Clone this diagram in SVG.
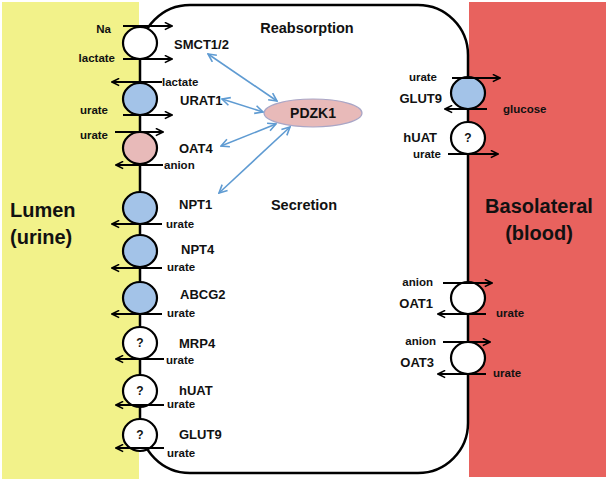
<svg xmlns="http://www.w3.org/2000/svg" width="609" height="483" viewBox="0 0 609 483">
<defs>
<style>
.t{font-family:"Liberation Sans",Arial,sans-serif;font-weight:bold;fill:#111}
.s{font-size:11.5px}
.p{font-size:13px}
.h{font-size:14.5px}
.b{font-size:20px}
.ar{stroke:#000;stroke-width:1.8;fill:none;marker-end:url(#ah)}
.bl{stroke:#5f9bd2;stroke-width:1.6;fill:none;marker-end:url(#bh);marker-start:url(#bh)}
.c{stroke:#000;stroke-width:2.2}
.w{fill:#fff}.u{fill:#a3c3e8}.k{fill:#e8bab9}
.q{font-family:"Liberation Sans",Arial,sans-serif;font-weight:bold;font-size:12px;text-anchor:middle;fill:#111}
</style>
<marker id="ah" viewBox="0 0 10 10" refX="9" refY="5" markerWidth="9" markerHeight="9" markerUnits="userSpaceOnUse" orient="auto">
<path d="M1,1 L9,5 L1,9" fill="none" stroke="#000" stroke-width="1.8"/>
</marker>
<marker id="bh" viewBox="0 0 10 10" refX="9" refY="5" markerWidth="10" markerHeight="10" markerUnits="userSpaceOnUse" orient="auto-start-reverse">
<path d="M1,1 L9,5 L1,9" fill="none" stroke="#5f9bd2" stroke-width="1.6"/>
</marker>
</defs>
<g id="lumen">
<rect x="2" y="2" width="137" height="477" fill="#f2f28a"/>
<text class="t b" x="10" y="217">Lumen</text>
<text class="t b" x="10" y="244">(urine)</text>
</g>
<g id="blood">
<rect x="469" y="2" width="137" height="475" fill="#e8625e"/>
<text class="t b" x="539" y="213" text-anchor="middle">Basolateral</text>
<text class="t b" x="539" y="240" text-anchor="middle">(blood)</text>
</g>
<g id="cell">
<rect x="140" y="5" width="328" height="468" rx="50" ry="50" fill="#fff" stroke="#000" stroke-width="2.5"/>
<text class="t h" x="307" y="33" text-anchor="middle">Reabsorption</text>
<text class="t h" x="304" y="210" text-anchor="middle">Secretion</text>
</g>
<g id="pdzk1">
<ellipse cx="313" cy="113" rx="49" ry="14" fill="#e8bab9" stroke="#a9a6c6" stroke-width="1.2"/>
<text class="t" font-size="14" x="313" y="118" text-anchor="middle">PDZK1</text>
</g>
<g id="smct">
<ellipse class="c w" cx="140" cy="43" rx="17" ry="16"/>
<text class="t p" x="174" y="49">SMCT1/2</text>
</g>
<g id="urat1">
<ellipse class="c u" cx="140" cy="99" rx="17" ry="16"/>
<text class="t p" x="180" y="105">URAT1</text>
</g>
<g id="oat4">
<ellipse class="c k" cx="140" cy="148" rx="17" ry="16"/>
<text class="t p" x="179" y="153">OAT4</text>
</g>
<g id="npt1">
<ellipse class="c u" cx="140" cy="208" rx="17" ry="16"/>
<text class="t p" x="179" y="209">NPT1</text>
</g>
<g id="npt4">
<ellipse class="c u" cx="140" cy="251" rx="17" ry="16"/>
<text class="t p" x="181" y="254">NPT4</text>
</g>
<g id="abcg2">
<ellipse class="c u" cx="140" cy="298" rx="17" ry="16"/>
<text class="t p" x="180" y="299">ABCG2</text>
</g>
<g id="mrp4">
<ellipse class="c w" cx="140" cy="343" rx="17" ry="16"/>
<text class="q" x="140" y="347">?</text>
<text class="t p" x="179" y="348">MRP4</text>
</g>
<g id="huat-l">
<ellipse class="c w" cx="140" cy="391" rx="17" ry="16"/>
<text class="q" x="140" y="395">?</text>
<text class="t p" x="179" y="395">hUAT</text>
</g>
<g id="glut9-l">
<ellipse class="c w" cx="140" cy="435" rx="17" ry="16"/>
<text class="q" x="140" y="439">?</text>
<text class="t p" x="179" y="439">GLUT9</text>
</g>
<g id="glut9-r">
<ellipse class="c u" cx="468" cy="93" rx="17" ry="16"/>
<text class="t p" x="442" y="103" text-anchor="end">GLUT9</text>
</g>
<g id="huat-r">
<ellipse class="c w" cx="468" cy="138" rx="17" ry="16"/>
<text class="q" x="468" y="142">?</text>
<text class="t p" x="437" y="142" text-anchor="end">hUAT</text>
</g>
<g id="oat1">
<ellipse class="c w" cx="468" cy="298" rx="17" ry="16"/>
<text class="t p" x="433" y="308" text-anchor="end">OAT1</text>
</g>
<g id="oat3">
<ellipse class="c w" cx="468" cy="358" rx="17" ry="16"/>
<text class="t p" x="434" y="367" text-anchor="end">OAT3</text>
</g>
<g id="connectors">
<line class="ar" x1="123" y1="26" x2="172" y2="26"/>
<line class="ar" x1="123" y1="59" x2="172" y2="59"/>
<line class="ar" x1="162" y1="82" x2="112" y2="82"/>
<line class="ar" x1="123" y1="115" x2="172" y2="115"/>
<line class="ar" x1="115" y1="132" x2="163" y2="132"/>
<line class="ar" x1="163" y1="165" x2="116" y2="165"/>
<line class="ar" x1="162" y1="224" x2="112" y2="224"/>
<line class="ar" x1="162" y1="268" x2="112" y2="268"/>
<line class="ar" x1="162" y1="314" x2="112" y2="314"/>
<line class="ar" x1="164" y1="359" x2="116" y2="359"/>
<line class="ar" x1="164" y1="405" x2="116" y2="405"/>
<line class="ar" x1="164" y1="448" x2="116" y2="448"/>
<line class="ar" x1="452" y1="78" x2="500" y2="78"/>
<line class="ar" x1="487" y1="109" x2="445" y2="109"/>
<line class="ar" x1="448" y1="154" x2="498" y2="154"/>
<line class="ar" x1="443" y1="283" x2="492" y2="283"/>
<line class="ar" x1="486" y1="314" x2="438" y2="314"/>
<line class="ar" x1="443" y1="342" x2="490" y2="342"/>
<line class="ar" x1="486" y1="374" x2="438" y2="374"/>
<line class="bl" x1="208" y1="54" x2="277" y2="101"/>
<line class="bl" x1="222" y1="99" x2="263" y2="112"/>
<line class="bl" x1="221" y1="146" x2="276" y2="124"/>
<line class="bl" x1="290" y1="127" x2="219" y2="193"/>
</g>
<g id="substrate-labels">
<text class="t s" x="111" y="33" text-anchor="end">Na</text>
<text class="t s" x="115" y="62" text-anchor="end">lactate</text>
<text class="t s" x="162" y="86">lactate</text>
<text class="t s" x="108" y="114" text-anchor="end">urate</text>
<text class="t s" x="108" y="139" text-anchor="end">urate</text>
<text class="t s" x="164" y="169">anion</text>
<text class="t s" x="166" y="228">urate</text>
<text class="t s" x="167" y="271">urate</text>
<text class="t s" x="167" y="317">urate</text>
<text class="t s" x="166" y="364">urate</text>
<text class="t s" x="167" y="408">urate</text>
<text class="t s" x="167" y="457">urate</text>
<text class="t s" x="437" y="81" text-anchor="end">urate</text>
<text class="t s" x="503" y="113">glucose</text>
<text class="t s" x="441" y="158" text-anchor="end">urate</text>
<text class="t s" x="433" y="286" text-anchor="end">anion</text>
<text class="t s" x="496" y="317">urate</text>
<text class="t s" x="436" y="345" text-anchor="end">anion</text>
<text class="t s" x="493" y="377">urate</text>
</g>
</svg>
